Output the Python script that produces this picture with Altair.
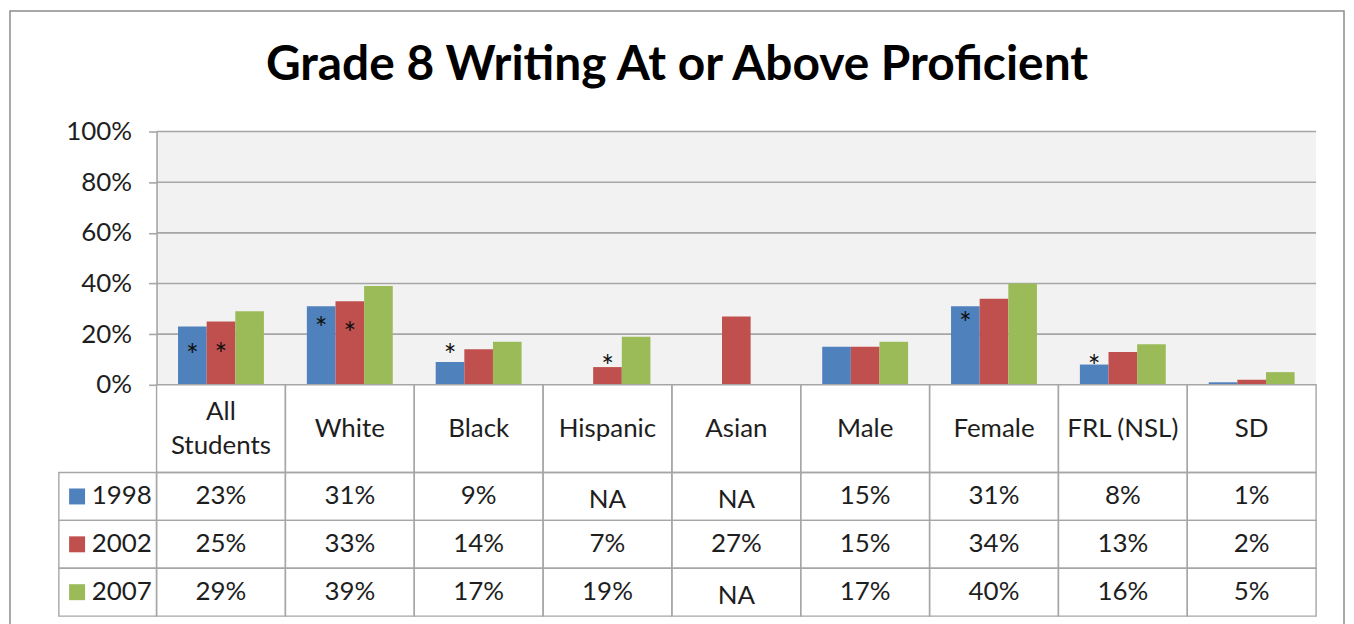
import altair as alt
import pandas as pd

# ---------------- data ----------------
categories = ["All Students", "White", "Black", "Hispanic", "Asian",
              "Male", "Female", "FRL (NSL)", "SD"]
cat_labels = ["All\nStudents", "White", "Black", "Hispanic", "Asian",
              "Male", "Female", "FRL (NSL)", "SD"]
years = ["1998", "2002", "2007"]
v1998 = [23, 31, 9, None, None, 15, 31, 8, 1]
v2002 = [25, 33, 14, 7, 27, 15, 34, 13, 2]
v2007 = [29, 39, 17, 19, None, 17, 40, 16, 5]
colors = ["#4f81bd", "#c0504d", "#9bbb59"]

# significance markers (*)
star_cat = ["All Students", "All Students", "White", "White", "Black",
            "Hispanic", "Female", "FRL (NSL)"]
star_year = ["1998", "2002", "1998", "2002", "1998", "2002", "1998", "1998"]
star_level = [13.8, 14.3, 24.5, 22.6, 13.7, 9.4, 26.3, 9.4]

# ---------------- layout helpers ----------------
W, H = 1163, 254
NCAT = len(categories)
PX_X = W / NCAT          # pixels per x unit
PX_Y = H / 100.0         # pixels per y unit
def xu(px):
    return px / PX_X
def yu(px):
    return px / PX_Y

BAR_W = 1 / 4.5
GROUP_START = 0.5 - 1.5 * BAR_W
HEADER_H = 88
ROW_H = 48
LEG_W = 98
HEAD_LH = 34

header_bottom = -yu(HEADER_H)
row_edges = [header_bottom - k * yu(ROW_H) for k in range(4)]

series = {"1998": v1998, "2002": v2002, "2007": v2007}

# bars
bar_rows = []
for i, c in enumerate(categories):
    for j, yr in enumerate(years):
        v = series[yr][i]
        if v is None:
            continue
        x0 = i + GROUP_START + j * BAR_W
        bar_rows.append({"category": c, "year": yr, "value": v,
                         "x": x0, "x2": x0 + BAR_W})
bars_df = pd.DataFrame(bar_rows)

# stars
star_rows = []
for c, yr, lv in zip(star_cat, star_year, star_level):
    i = categories.index(c)
    j = years.index(yr)
    star_rows.append({"x": i + GROUP_START + (j + 0.5) * BAR_W, "y": lv, "t": "*"})
stars_df = pd.DataFrame(star_rows)

# table cells
cell_rows = []
for i in range(NCAT):
    cell_rows.append({"x": i, "x2": i + 1, "y": 0, "y2": header_bottom})
for r in range(3):
    cell_rows.append({"x": -xu(LEG_W), "x2": 0, "y": row_edges[r], "y2": row_edges[r + 1]})
    for i in range(NCAT):
        cell_rows.append({"x": i, "x2": i + 1, "y": row_edges[r], "y2": row_edges[r + 1]})
cells_df = pd.DataFrame(cell_rows)

# header text (multi-line labels shifted up so the block is centred)
head_df = pd.DataFrame({
    "x": [i + 0.5 for i in range(NCAT)],
    "y": [header_bottom / 2 + yu(HEAD_LH / 2) * (lab.count("\n")) for lab in cat_labels],
    "t": cat_labels})

# value text
val_rows = []
for r, yr in enumerate(years):
    yc = (row_edges[r] + row_edges[r + 1]) / 2
    for i in range(NCAT):
        v = series[yr][i]
        val_rows.append({"x": i + 0.5, "y": yc,
                         "t": "NA" if v is None else f"{v}%",
                         "na": v is None})
vals_df = pd.DataFrame(val_rows)
num_df = vals_df[~vals_df["na"]]
na_df = vals_df[vals_df["na"]]

# legend column
leg_df = pd.DataFrame({
    "year": years,
    "y": [(row_edges[r] + row_edges[r + 1]) / 2 for r in range(3)],
    "xs": [-xu(156 - 76.3)] * 3,
    "xt": [-xu(156 - 91)] * 3,
})

# outer frame
frame_df = pd.DataFrame([{"x": -xu(147), "x2": NCAT + xu(28),
                          "y": 100 + yu(121), "y2": -yu(242)}])

grid_df = pd.DataFrame({"v": [20, 40, 60, 80, 100]})

# ---------------- chart ----------------
FONT = "Lato"
TXT = "#1e1e1e"
LINE = "#a6a6a6"
FS = 26

xs = alt.Scale(domain=[0, NCAT], nice=False, zero=False)
ys = alt.Scale(domain=[0, 100], nice=False, zero=False)
color_scale = alt.Scale(domain=years, range=colors)

X = lambda f: alt.X(f, type="quantitative", scale=xs, axis=None)

frame = alt.Chart(frame_df).mark_rect(fill="white", fillOpacity=0, stroke="#8c8c8c",
                                      strokeWidth=1.5).encode(
    x=X("x"), x2="x2",
    y=alt.Y("y:Q", scale=ys,
            axis=alt.Axis(values=list(range(0, 101, 5)),
                          labelExpr="datum.value % 20 == 0 ? datum.value + '%' : ''",
                          grid=False, tickSize=8, tickColor=LINE, tickWidth=1.6,
                          domainColor=LINE, domainWidth=1.6,
                          labelFont=FONT, labelFontSize=FS, labelColor=TXT,
                          labelPadding=17, title=None)),
    y2="y2")

grid = alt.Chart(grid_df).mark_rule(color=LINE, strokeWidth=1.6).encode(
    y=alt.Y("v:Q", scale=ys))

bars = alt.Chart(bars_df).mark_rect().encode(
    x=X("x"), x2="x2",
    y=alt.Y("value:Q", scale=ys), y2=alt.datum(0),
    color=alt.Color("year:N", scale=color_scale, legend=None))

stars = alt.Chart(stars_df).mark_text(font=FONT, fontSize=30, color="#111",
                                      baseline="alphabetic", dy=16).encode(
    x=X("x"), y=alt.Y("y:Q", scale=ys), text="t:N")

cells = alt.Chart(cells_df).mark_rect(fill="white", fillOpacity=0, stroke=LINE,
                                      strokeWidth=1.4).encode(
    x=X("x"), x2="x2", y=alt.Y("y:Q", scale=ys), y2="y2")

head = alt.Chart(head_df).mark_text(font=FONT, fontSize=FS, color=TXT,
                                    lineBreak="\n", lineHeight=HEAD_LH,
                                    baseline="middle").encode(
    x=X("x"), y=alt.Y("y:Q", scale=ys), text="t:N")

nums = alt.Chart(num_df).mark_text(font=FONT, fontSize=FS, color=TXT,
                                   baseline="middle").encode(
    x=X("x"), y=alt.Y("y:Q", scale=ys), text="t:N")

nas = alt.Chart(na_df).mark_text(font=FONT, fontSize=FS, color=TXT,
                                 baseline="middle", dy=4).encode(
    x=X("x"), y=alt.Y("y:Q", scale=ys), text="t:N")

swatch = alt.Chart(leg_df).mark_point(shape="square", filled=True, size=256,
                                      opacity=1).encode(
    x=X("xs"), y=alt.Y("y:Q", scale=ys),
    color=alt.Color("year:N", scale=color_scale, legend=None))

legtext = alt.Chart(leg_df).mark_text(font=FONT, fontSize=FS, color=TXT,
                                      align="left", baseline="middle").encode(
    x=X("xt"), y=alt.Y("y:Q", scale=ys), text="year:N")

chart = alt.layer(frame, grid, bars, stars, cells, head, nums, nas, swatch, legtext).properties(
    width=W, height=H,
    padding={"left": 1, "top": 1, "right": 1, "bottom": 1},
    title=alt.Title("Grade 8 Writing At or Above Proficient",
                    font=FONT, fontSize=48, fontWeight="bold", color="black",
                    anchor="middle", frame="bounds", offset=-80),
).configure_view(fill="#f2f2f2", strokeWidth=0)

chart.save("out.html", embed_options={"renderer": "svg", "actions": False})
